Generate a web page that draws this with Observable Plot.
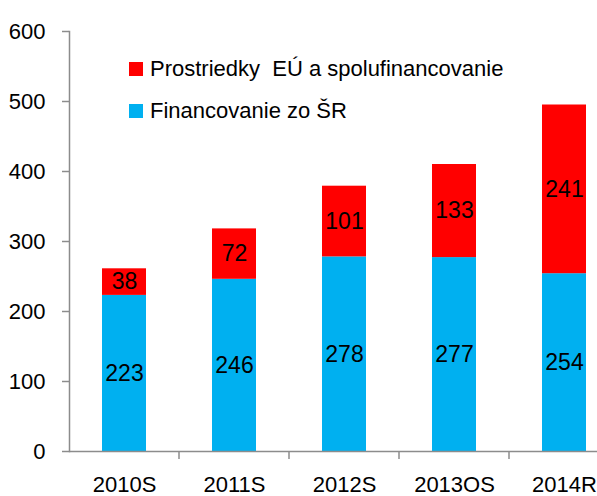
<!DOCTYPE html>
<html><head><meta charset="utf-8">
<script src="https://cdn.jsdelivr.net/npm/d3@7"></script>
<script src="https://cdn.jsdelivr.net/npm/@observablehq/plot@0.6"></script>
<style>
body{margin:0;background:#fff}
#wrap{position:relative;width:597px;height:496px;font-family:"Liberation Sans",Arial,sans-serif}
#legend{position:absolute;left:129px;top:48px;font-size:22px;color:#000}
.item{display:flex;align-items:center;height:42px;white-space:pre}
.sw{width:14px;height:14px;margin-right:7px;flex:none}
</style></head><body><div id="wrap"><div id="legend"></div></div>
<script>
const categories = ["2010S","2011S","2012S","2013OS","2014R"];
const srValues = [223,246,278,277,254];
const euValues = [38,72,101,133,241];
const seriesNames = ["Financovanie zo ŠR","Prostriedky  EÚ a spolufinancovanie"];
const seriesColors = ["#00B0F0","#FF0000"];
const yTicks = [0,100,200,300,400,500,600];

const data = categories.flatMap((c,i)=>[
  {cat:c, series:seriesNames[0], value:srValues[i]},
  {cat:c, series:seriesNames[1], value:euValues[i]}
]);
const font = '"Liberation Sans",Arial,sans-serif';
const gray = "#8c8c8c";
const padInner = 0.6;

function boundaryTicks(index, scales) {
  const x = scales.x, y = scales.y;
  const step = x(categories[1]) - x(categories[0]);
  const g = d3.create("svg:g").attr("stroke", gray).attr("stroke-width", 1.5);
  const y0 = y(0);
  categories.slice(1).forEach(c => {
    const ex = x(c) - step * padInner / 2;
    g.append("line").attr("x1", ex).attr("x2", ex).attr("y1", y0).attr("y2", y0 + 8);
  });
  return g.node();
}

const chart = Plot.plot({
  width: 597,
  height: 496,
  marginLeft: 69,
  marginRight: 0,
  marginTop: 31,
  marginBottom: 45,
  style: {fontFamily: font, fontSize: "22px", background: "#fff", overflow: "hidden"},
  x: {type: "band", domain: categories, range: [69, 619], paddingInner: padInner, paddingOuter: 0.3, align: 0.5, label: null},
  y: {domain: [0, 600], label: null},
  color: {domain: seriesNames, range: seriesColors},
  marks: [
    Plot.barY(data, {x: "cat", y: "value", fill: "series", z: "series", order: seriesNames}),
    Plot.text(data, Plot.stackY({x: "cat", y: "value", z: "series", text: "value", order: seriesNames, fontSize: 23, fill: "#000"})),
    Plot.ruleY([0], {stroke: gray, strokeWidth: 1.5}),
    Plot.frame({anchor: "left", stroke: gray, strokeWidth: 1.5}),
    Plot.axisY({ticks: yTicks, tickSize: 7, tickPadding: 17, stroke: gray, strokeWidth: 1.5, fill: "#000", fontSize: 22, label: null}),
    Plot.axisX({tickSize: 0, tickPadding: 25, fill: "#000", fontSize: 22, label: null}),
    boundaryTicks
  ]
});
document.getElementById("wrap").prepend(chart);

const legend = document.getElementById("legend");
[1, 0].forEach(i => {
  const it = document.createElement("div");
  it.className = "item";
  const sw = document.createElement("span");
  sw.className = "sw";
  sw.style.background = seriesColors[i];
  const t = document.createElement("span");
  t.textContent = seriesNames[i];
  it.append(sw, t);
  legend.append(it);
});
</script></body></html>
